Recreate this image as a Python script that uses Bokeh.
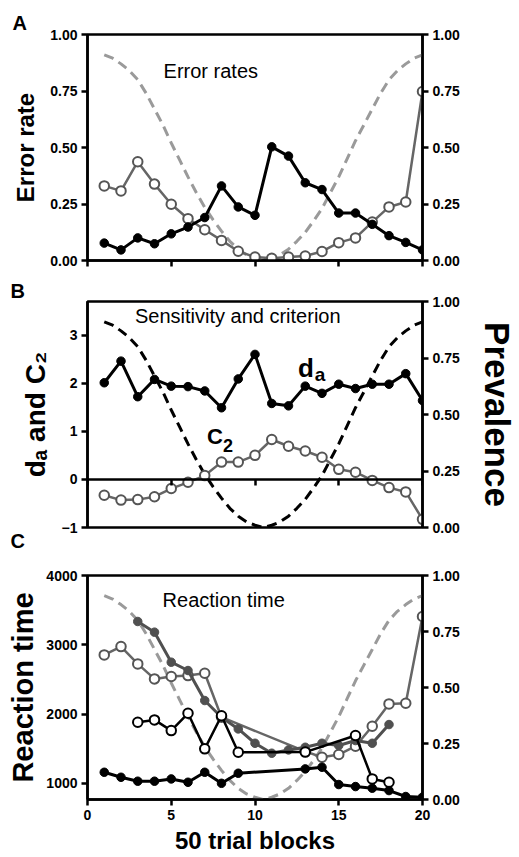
import math
from bokeh.plotting import figure
from bokeh.models import Range1d, LinearAxis, Label, FixedTicker, NumeralTickFormatter, Title
from bokeh.layouts import column
from bokeh.embed import file_html
from bokeh.resources import INLINE

# ---------------- data ----------------
blocks = list(range(1, 21))

prev_x = [1, 1.5, 2, 2.5, 3, 3.5, 4, 4.5, 5, 5.5, 6, 6.5, 7, 7.5, 8, 8.5, 9, 9.5, 10, 10.5,
          11, 11.5, 12, 12.5, 13, 13.5, 14, 14.5, 15, 15.5, 16, 16.5, 17, 17.5, 18, 18.5, 19, 19.5, 20]
prev_y = [0.91, 0.895, 0.87, 0.84, 0.80, 0.74, 0.67, 0.60, 0.52, 0.445, 0.37, 0.30, 0.235, 0.18, 0.13,
          0.085, 0.05, 0.025, 0.01, 0.0, 0.01, 0.025, 0.05, 0.085, 0.125, 0.175, 0.23, 0.30, 0.37, 0.45,
          0.53, 0.60, 0.67, 0.74, 0.80, 0.84, 0.87, 0.895, 0.91]

err_black = [0.077, 0.047, 0.10, 0.074, 0.118, 0.148, 0.19, 0.33, 0.237, 0.20,
             0.503, 0.462, 0.344, 0.314, 0.21, 0.21, 0.16, 0.11, 0.08, 0.047]
err_open = [0.33, 0.308, 0.437, 0.338, 0.249, 0.185, 0.136, 0.089, 0.041, 0.015,
            0.01, 0.015, 0.02, 0.04, 0.079, 0.10, 0.17, 0.237, 0.259, 0.748]

da = [2.01, 2.46, 1.72, 2.08, 1.94, 1.93, 1.84, 1.49, 2.09, 2.60,
      1.58, 1.53, 1.94, 1.79, 1.98, 1.89, 1.98, 1.98, 2.20, 1.64]
c2 = [-0.33, -0.43, -0.42, -0.36, -0.19, -0.06, 0.08, 0.36, 0.36, 0.50,
      0.83, 0.69, 0.59, 0.46, 0.21, 0.15, -0.02, -0.17, -0.26, -0.83]

rt_bf_x = [1, 2, 3, 4, 5, 6, 7, 8, 9, 13, 14, 15, 16, 17, 18, 19, 20]
rt_bf_y = [1159, 1087, 1030, 1030, 1063, 1015, 1159, 1000, 1145, 1208, 1232, 982, 953, 929, 895, 809, 800]

rt_bo_x = [3, 4, 5, 6, 7, 8, 9, 13, 16, 17, 18]
rt_bo_y = [1882, 1915, 1761, 2011, 1497, 1975, 1449, 1450, 1690, 1063, 1015]

rt_gf_x = [3, 4, 5, 6, 7, 8, 9, 10, 11, 12, 13, 14, 15, 16, 17, 18]
rt_gf_y = [3336, 3182, 2748, 2628, 2195, 1954, 1785, 1578, 1434, 1482, 1520, 1578, 1545, 1617, 1578, 1848]

rt_go_x = [1, 2, 3, 4, 5, 6, 7, 8, 13, 14, 15, 16, 17, 18, 19, 20]
rt_go_y = [2854, 2974, 2724, 2507, 2541, 2555, 2589, 1954, 1460, 1376, 1415, 1535, 1824, 2146, 2155, 3408]

prev_ticks = [0, 0.25, 0.5, 0.75, 1.0]
x_ticks = [0, 5, 10, 15, 20]

# ---------------- style / layout ----------------
FONT = "Liberation Sans"
PAGE_W = 519
FL, FR = 87, 426           # page x of frame edges
GRAY_DASH = "#9a9a9a"
GRAY_LINE = "#666666"
GRAY_EDGE = "#555555"
GRAY_DARK = "#505050"


def X(px):
    return (px - FL) / ((FR - FL) / 20.0)


def style_axis(a):
    a.axis_line_width = 2.5
    a.axis_line_color = "black"
    a.major_tick_line_width = 2.5
    a.major_tick_line_color = "black"
    a.major_tick_out = 6
    a.major_tick_in = 0
    a.minor_tick_line_color = None
    a.major_label_text_font = FONT
    a.major_label_text_font_style = "bold"
    a.major_label_text_font_size = "14px"
    a.major_label_text_color = "black"
    a.major_label_standoff = 4
    a.axis_label_text_font = FONT
    a.axis_label_text_font_style = "bold"
    a.axis_label_text_color = "black"


def make_fig(h, top, bottom, yr):
    p = figure(width=PAGE_W, height=h, x_range=Range1d(0, 20), y_range=yr, title=None,
               output_backend="svg", toolbar_location=None,
               min_border_left=FL, min_border_right=PAGE_W - FR,
               min_border_top=top, min_border_bottom=bottom)
    p.xgrid.visible = False
    p.ygrid.visible = False
    p.outline_line_color = "black"
    p.outline_line_width = 2.5
    p.outline_line_alpha = 1.0
    p.extra_y_ranges = {"prev": Range1d(0, 1)}
    ax = LinearAxis(y_range_name="prev", ticker=FixedTicker(ticks=prev_ticks),
                    formatter=NumeralTickFormatter(format="0.00"))
    p.add_layout(ax, "right")
    for a in p.axis:
        style_axis(a)
    p.xaxis.ticker = FixedTicker(ticks=x_ticks)
    return p, ax


def txt(p, x, y, s, size, bold=False):
    p.add_layout(Label(x=x, y=y, text=s, text_font=FONT, text_font_size=f"{size}px",
                       text_font_style="bold" if bold else "normal", text_color="black",
                       text_align="left", text_baseline="alphabetic"))


def letter(p, s, where, offset, standoff):
    p.add_layout(Title(text=s, align="left", offset=offset, standoff=standoff,
                       text_font=FONT, text_font_size="20px", text_font_style="bold",
                       text_color="black"), where)


blank = {t: "" for t in x_ticks}

# ---------------- Panel A (page y 0-277) ----------------
pA, rA = make_fig(277, 34, 17, Range1d(0, 1))
pA.yaxis[0].ticker = FixedTicker(ticks=prev_ticks)
pA.yaxis[0].formatter = NumeralTickFormatter(format="0.00")
pA.yaxis[0].axis_label = "Error rate"
pA.yaxis[0].axis_label_text_font_size = "24px"
pA.yaxis[0].axis_label_standoff = 8
pA.xaxis.major_label_overrides = blank
letter(pA, "A", "above", -75, 2)

pA.line(prev_x, prev_y, y_range_name="prev", line_dash="10 6", line_width=3, color=GRAY_DASH)
pA.line(blocks, err_open, line_width=2.5, color=GRAY_LINE)
pA.scatter(blocks, err_open, size=9.5, fill_color="white", line_color=GRAY_EDGE, line_width=2)
pA.line(blocks, err_black, line_width=3, color="black")
pA.scatter(blocks, err_black, size=8.5, color="black")


def YA(py):
    return (260 - py) / 226.0


txt(pA, X(164), YA(78 - 8), "Error rates", 20)

# ---------------- Panel B (page y 277-559) ----------------
pB, rB = make_fig(282, 24, 32, Range1d(-1, 3.7))
pB.yaxis[0].ticker = FixedTicker(ticks=[-1, 0, 1, 2, 3])
pB.yaxis[0].axis_label = "d\u2090 and C\u2082"
pB.yaxis[0].axis_label_text_font_size = "28px"
pB.yaxis[0].axis_label_standoff = 8
pB.xaxis.fixed_location = 0
pB.xaxis.major_label_overrides = blank
pB.xaxis.major_label_standoff = 0
rB.axis_label = "Prevalence"
rB.axis_label_text_font_size = "35px"
rB.axis_label_standoff = 15
letter(pB, "B", "above", -77, 0)
letter(pB, "C", "below", -77, 0)

pB.line(prev_x, prev_y, y_range_name="prev", line_dash="10 6", line_width=3, color="black")
pB.line(blocks, c2, line_width=2.5, color=GRAY_LINE)
pB.scatter(blocks, c2, size=9.5, fill_color="white", line_color=GRAY_EDGE, line_width=2)
pB.line(blocks, da, line_width=3, color="black")
pB.scatter(blocks, da, size=8.5, color="black")


def YB(py):
    return -1 + (527 - py) / 226.0 * 4.7


txt(pB, X(135), YB(323 - 8), "Sensitivity and criterion", 20)
txt(pB, X(300), YB(377 - 10), "d", 26, bold=True)
txt(pB, X(317), YB(382 - 8), "a", 19, bold=True)
txt(pB, X(208), YB(445 - 9), "C", 22, bold=True)
txt(pB, X(224), YB(452 - 7), "2", 18, bold=True)

# ---------------- Panel C (page y 559-857) ----------------
pC, rC = make_fig(298, 16, 58, Range1d(766, 4000))
pC.yaxis[0].ticker = FixedTicker(ticks=[1000, 2000, 3000, 4000])
pC.yaxis[0].formatter = NumeralTickFormatter(format="0")
pC.yaxis[0].axis_label = "Reaction time"
pC.yaxis[0].axis_label_text_font_size = "29px"
pC.yaxis[0].axis_label_standoff = 4
pC.xaxis.axis_label = "50 trial blocks"
pC.xaxis.axis_label_text_font_size = "24px"
pC.xaxis.axis_label_standoff = 4

pC.line(prev_x, prev_y, y_range_name="prev", line_dash="10 6", line_width=3, color=GRAY_DASH)
pC.line(rt_go_x, rt_go_y, line_width=2.5, color=GRAY_LINE)
pC.scatter(rt_go_x, rt_go_y, size=9.5, fill_color="white", line_color=GRAY_EDGE, line_width=2)
pC.line(rt_gf_x, rt_gf_y, line_width=3, color=GRAY_DARK)
pC.scatter(rt_gf_x, rt_gf_y, size=8.5, color=GRAY_DARK)
pC.line(rt_bo_x, rt_bo_y, line_width=2.5, color="black")
pC.scatter(rt_bo_x, rt_bo_y, size=9.5, fill_color="white", line_color="black", line_width=2)
pC.line(rt_bf_x, rt_bf_y, line_width=3, color="black")
pC.scatter(rt_bf_x, rt_bf_y, size=8.5, color="black")


def YC(py):
    return 766 + (799 - py) / 224.0 * (4000 - 766)


txt(pC, X(163), YC(607 - 8), "Reaction time", 20)

layout = column(pA, pB, pC, spacing=0)
open("out.html", "w").write(file_html(layout, INLINE))
